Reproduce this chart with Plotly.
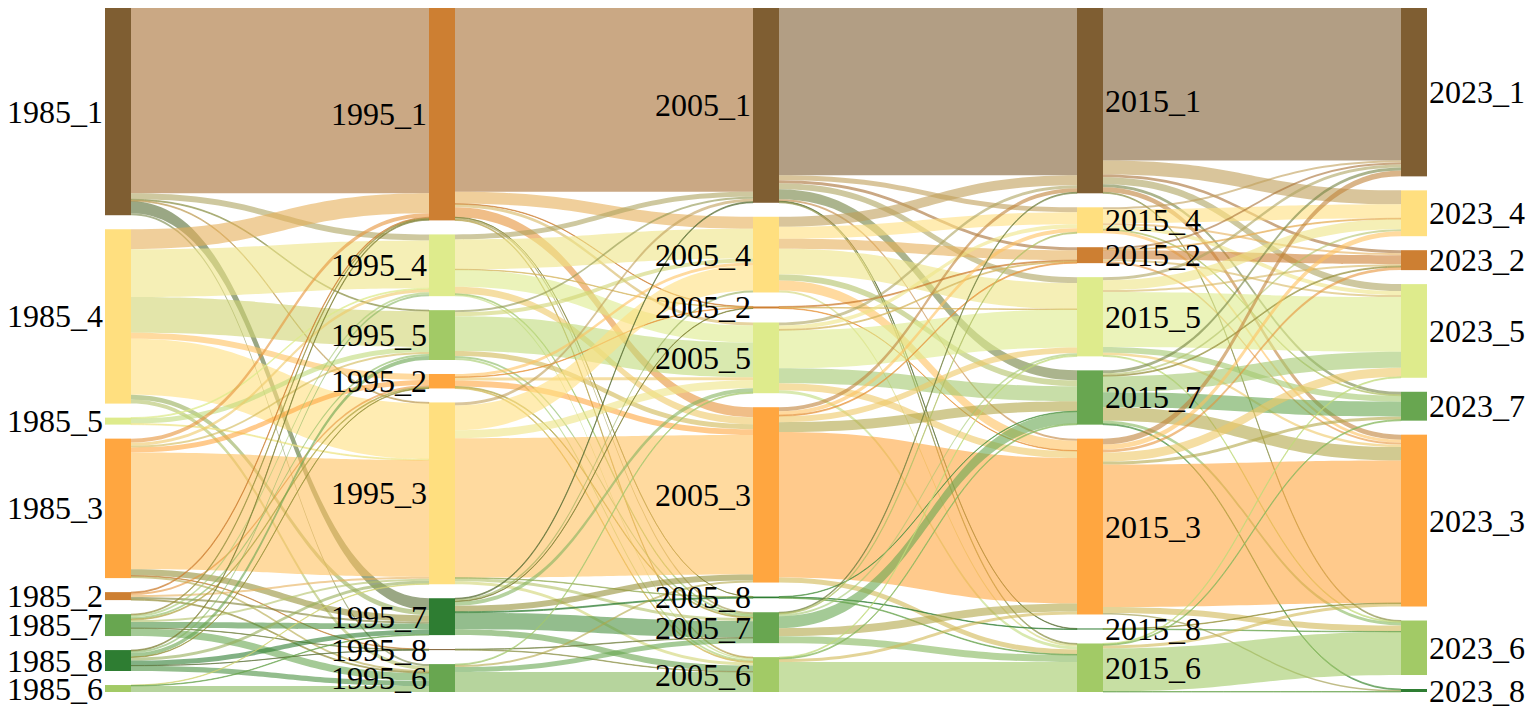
import plotly.graph_objects as go

# ----------------------
# Data: land-use class flows between survey years
# ----------------------
years = ["1985", "1995", "2005", "2015", "2023"]

# class order (top to bottom) of each year column
order_1985 = [1, 4, 5, 3, 2, 7, 8, 6]
order_1995 = [1, 4, 5, 2, 3, 7, 8, 6]
order_2005 = [1, 4, 2, 5, 3, 8, 7, 6]
order_2015 = [1, 4, 2, 5, 7, 3, 8, 6]
order_2023 = [1, 4, 2, 5, 7, 3, 6, 8]

# flow matrices: rows = source column order, cols = target column order
flows_1985_1995 = [
    [186, 6, 1, 0, 1, 12, 0, 2],
    [20, 48, 36, 6, 56, 5, 0, 4],
    [0, 1, 5, 0, 1, 0, 0, 0],
    [4, 3, 2, 5, 117, 6.5, 0.5, 2],
    [1, 0, 0, 2, 2, 2, 0, 1],
    [1, 2, 2, 1, 2, 6, 0.3, 7.7],
    [1, 2, 4, 0.5, 3, 5, 0.2, 5.3],
    [0, 0, 0, 0, 0.5, 0.5, 0, 6],
]
flows_1995_2005 = [
    [184.5, 12, 0.5, 3, 10, 0.2, 2, 1],
    [5, 30, 0.5, 17, 7, 0, 1, 1.5],
    [2, 4, 0, 35, 5, 0, 2, 2],
    [0, 3, 0.5, 3, 6, 0, 1, 1],
    [3, 25, 0, 8, 140, 0.5, 3, 3],
    [1, 2, 0.5, 4, 6, 1, 16.5, 6],
    [0, 0, 0, 0, 0, 0, 0.5, 0.5],
    [0, 0, 0, 1, 2, 0, 5, 20],
]
flows_2005_2015 = [
    [168, 5, 3, 6, 10, 2, 0.5, 1],
    [10, 12, 10, 26, 6, 10, 0, 2],
    [0, 0, 1, 0.5, 0, 0.5, 0, 0],
    [3, 4, 1, 38, 15, 7, 0, 3],
    [4, 4, 1, 6, 10, 146, 0, 5],
    [0, 0, 0, 0, 0.5, 0, 0.5, 0.7],
    [1, 1, 0, 2, 12, 8, 0, 7],
    [0, 0, 0, 1, 1, 3, 0, 30],
]
flows_2015_2023 = [
    [153, 14, 3, 7, 3, 5, 1, 0],
    [2, 14, 2, 4, 1, 3, 0, 0],
    [2, 1, 9, 2, 0, 2, 0, 0],
    [3, 10, 2, 55, 6, 2.5, 1, 0],
    [3, 2, 1, 16, 15, 13.5, 3, 1],
    [6, 5, 3, 9, 3, 143, 6, 1.5],
    [0, 0, 0, 0, 0, 0.5, 0.5, 0],
    [0, 0, 0, 1, 1, 3, 43.2, 0.5],
]

# ----------------------
# Colours
# ----------------------
BROWN = (127, 94, 50)
COPPER = (205, 127, 50)
ORANGE = (255, 166, 64)
YELLOW = (255, 223, 127)
LIME = (222, 235, 140)
MID = (162, 202, 102)
GREEN = (104, 166, 80)
DARK = (46, 125, 50)

class_color = {1: BROWN, 2: COPPER, 3: ORANGE, 4: YELLOW,
               5: LIME, 6: MID, 7: GREEN, 8: DARK}
# 1995 column uses a palette shifted by one class
class_color_1995 = {1: COPPER, 2: ORANGE, 3: YELLOW, 4: LIME,
                    5: MID, 6: GREEN, 7: DARK, 8: BROWN}

orders = [order_1985, order_1995, order_2005, order_2015, order_2023]
flows = [flows_1985_1995, flows_1995_2005, flows_2005_2015, flows_2015_2023]


def rgba(c, a=1.0):
    return f"rgba({c[0]},{c[1]},{c[2]},{a})"


# ----------------------
# Nodes and links
# ----------------------
names, node_rgb, col_of = [], [], []
index = {}
for ci, (yr, order) in enumerate(zip(years, orders)):
    pal = class_color_1995 if yr == "1995" else class_color
    for k in order:
        index[(ci, k)] = len(names)
        names.append(f"{yr}_{k}")
        node_rgb.append(pal[k])
        col_of.append(ci)

src, tgt, val, lcol = [], [], [], []
for si, mat in enumerate(flows):
    for i, ks in enumerate(orders[si]):
        for j, kt in enumerate(orders[si + 1]):
            v = mat[i][j]
            if v <= 0:
                continue
            a = index[(si, ks)]
            b = index[(si + 1, kt)]
            mix = tuple((node_rgb[a][m] + node_rgb[b][m]) // 2 for m in range(3))
            src.append(a)
            tgt.append(b)
            val.append(v)
            lcol.append(rgba(mix, 0.6))

n = len(names)
inflow = [0.0] * n
outflow = [0.0] * n
for a, b, v in zip(src, tgt, val):
    outflow[a] += v
    inflow[b] += v
node_val = [max(i, o) for i, o in zip(inflow, outflow)]

# ----------------------
# Layout of the columns (same scaling rule as the sankey engine)
# page body has an 8px margin, so the figure is 8px smaller than the window
# ----------------------
W, H_FIG = 1527, 710
M_T, M_B = 0, 26
H = H_FIG - M_T - M_B
PAD = 14
THICK = 26
x_first, x_step = 110 / W, 324 / W

col_nodes = [[i for i in range(n) if col_of[i] == c] for c in range(len(years))]
ky = min((H - (len(c) - 1) * PAD) / sum(node_val[i] for i in c) for c in col_nodes)

node_x = [0.0] * n
node_y = [0.0] * n
for c, members in enumerate(col_nodes):
    total = sum(node_val[i] for i in members) * ky
    gap = (H - total) / (len(members) - 1)
    top = 0.0
    for i in members:
        h = node_val[i] * ky
        node_x[i] = x_first + c * x_step
        node_y[i] = (top + h / 2) / H
        top += h + gap

fig = go.Figure(go.Sankey(
    arrangement="fixed",
    node=dict(
        label=[""] * n,
        customdata=names,
        hovertemplate="%{customdata}: %{value}<extra></extra>",
        x=node_x,
        y=node_y,
        pad=PAD,
        thickness=THICK,
        color=[rgba(c) for c in node_rgb],
        line=dict(width=0),
    ),
    link=dict(source=src, target=tgt, value=val, color=lcol),
))

# node labels: left of the node for the first three years, right for the rest
for i in range(n):
    left = col_of[i] < 3
    fig.add_annotation(
        text=names[i], showarrow=False,
        xref="paper", yref="paper",
        x=node_x[i], y=1 - node_y[i],
        xanchor="right" if left else "left", yanchor="middle",
        xshift=-(THICK / 2 + 1) if left else (THICK / 2 + 1),
        borderpad=0,
        font=dict(family="Liberation Serif", size=32, color="black"),
    )

fig.update_layout(
    width=W, height=H_FIG,
    margin=dict(l=0, r=0, t=M_T, b=M_B),
    paper_bgcolor="white",
    plot_bgcolor="white",
    font=dict(family="Liberation Serif"),
)

fig.write_html("out.html")
